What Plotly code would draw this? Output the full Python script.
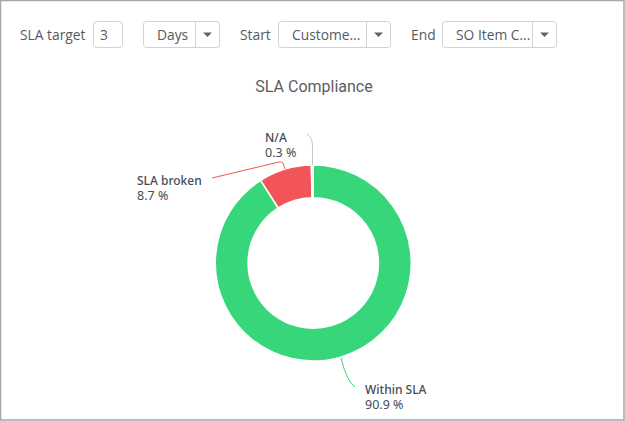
import plotly.graph_objects as go

W, H = 625, 421

labels = ["Within SLA", "SLA broken", "N/A"]
shares = [90.9, 8.7, 0.3]
colors = ["#37d67a", "#f15558", "#c4c7cc"]

control_labels = ["SLA target", "Start", "End"]
control_values = ["3", "Days", "Custome...", "SO Item C..."]


def px(x):
    return x / W


def py(y):
    return 1 - y / H


def path(points):
    # points are in screen pixels, turned into paper coords here
    out = ""
    for cmd, *xy in points:
        out += cmd + " ".join(f"{px(xy[i]):.5f},{py(xy[i + 1]):.5f}" for i in range(0, len(xy), 2)) + " "
    return out.strip()


def round_box(x0, y0, x1, y1, r=3):
    return path([
        ("M", x0 + r, y0), ("L", x1 - r, y0), ("Q", x1, y0, x1, y0 + r),
        ("L", x1, y1 - r), ("Q", x1, y1, x1 - r, y1), ("L", x0 + r, y1),
        ("Q", x0, y1, x0, y1 - r), ("L", x0, y0 + r), ("Q", x0, y0, x0 + r, y0), ("Z",),
    ])


fig = go.Figure(go.Pie(
    labels=labels,
    values=shares,
    hole=0.665,
    sort=False,
    direction="clockwise",
    rotation=0,
    textinfo="none",
    showlegend=False,
    marker=dict(colors=colors, line=dict(color="white", width=1.5)),
    domain=dict(x=[px(215), px(411.5)], y=[py(361), py(165)]),
))

shapes = []
notes = []

# frame
shapes.append(dict(type="rect", xref="paper", yref="paper", x0=px(0.5), x1=px(W - 1), y0=py(0.5), y1=py(H - 1),
                   line=dict(color="#a6a6a6", width=1.5)))

# top controls
BOX = "#d2d2d2"
TXT = "#555b61"


def text(x, y, s, size=13.8, color=TXT, family="Open Sans"):
    # annotations sit about 2px right of x because of their padding
    notes.append(dict(xref="paper", yref="paper", x=px(x - 2), y=py(y), text=s, showarrow=False,
                      xanchor="left", yanchor="middle", align="left",
                      font=dict(family=family, size=size, color=color)))


text(20, 34.5, control_labels[0])
shapes.append(dict(type="path", path=round_box(93.5, 21.5, 122.5, 47.5), xref="paper", yref="paper",
                   line=dict(color=BOX, width=1), fillcolor="white"))
text(100, 34.5, control_values[0])

# dropdown boxes: left, divider, right, text x
for x0, xd, x1, tx, val in [(143.5, 195.5, 219.5, 157, control_values[1]),
                            (278.5, 366.5, 390.5, 292, control_values[2]),
                            (442.5, 532.5, 556.5, 456, control_values[3])]:
    shapes.append(dict(type="path", path=round_box(x0, 21.5, x1, 47.5), xref="paper", yref="paper",
                       line=dict(color=BOX, width=1), fillcolor="white"))
    shapes.append(dict(type="line", xref="paper", yref="paper", x0=px(xd), x1=px(xd), y0=py(21.5), y1=py(47.5),
                       line=dict(color=BOX, width=1)))
    mid = (xd + x1) / 2
    shapes.append(dict(type="path", xref="paper", yref="paper", fillcolor="#5f6468", line=dict(width=0),
                       path=path([("M", mid - 4.5, 32.5), ("L", mid + 4.5, 32.5), ("L", mid, 37), ("Z",)])))
    text(tx, 34.5, val)

text(240, 34.5, control_labels[1])
text(411, 34.5, control_labels[2])

# leader lines
shapes.append(dict(type="path", xref="paper", yref="paper", line=dict(color=colors[0], width=1),
                   path=path([("M", 341, 358), ("Q", 347, 382, 355, 387)])))
shapes.append(dict(type="path", xref="paper", yref="paper", line=dict(color=colors[1], width=1),
                   path=path([("M", 285, 169), ("L", 283, 163), ("Q", 282, 161.5, 279, 162), ("L", 212, 178)])))
shapes.append(dict(type="path", xref="paper", yref="paper", line=dict(color=colors[2], width=1),
                   path=path([("M", 312.5, 165), ("L", 312.5, 146), ("Q", 312.5, 137, 307, 134)])))

# slice labels, name and value in one annotation so the lines stay tight
LABEL = "#474c55"
for (x, y), name, share in zip([(364.5, 397), (137, 188), (265, 145)], labels, shares):
    label = (f"<span style='font-weight:500;font-size:12px'>{name}</span><br>"
             f"<span style='font-size:12.5px'>{share} %</span>")
    text(x, y, label, size=11.5, color=LABEL, family="Noto Sans")

fig.update_layout(
    width=W,
    height=H,
    margin=dict(l=0, r=0, t=0, b=0),
    paper_bgcolor="white",
    title=dict(text="SLA Compliance", x=px(314), xanchor="center", y=py(86), yanchor="middle",
               font=dict(family="Roboto", size=16, color="#5a5e63")),
    shapes=shapes,
    annotations=notes,
)

fig.write_html("out.html", config={"displayModeBar": False}, post_script="document.body.style.margin='0';")
